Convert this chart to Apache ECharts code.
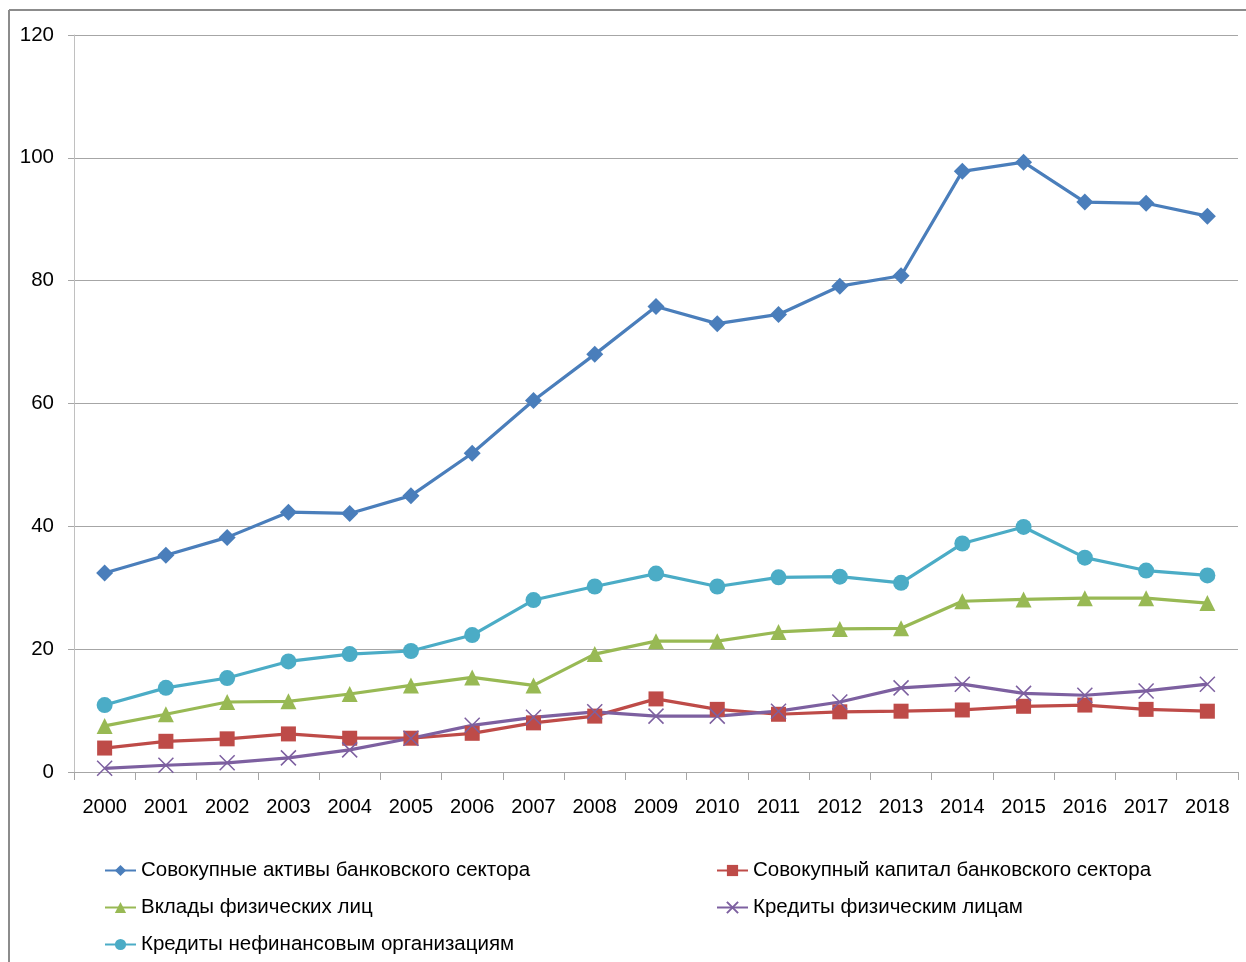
<!DOCTYPE html>
<html>
<head>
<meta charset="utf-8">
<script src="https://cdn.jsdelivr.net/npm/echarts@6/dist/echarts.min.js"></script>
<style>
html,body{margin:0;padding:0;background:#fff;}
#chart{width:1246px;height:962px;}
</style>
</head>
<body>
<div id="chart"></div>
<script>
const years = ['2000','2001','2002','2003','2004','2005','2006','2007','2008','2009','2010','2011','2012','2013','2014','2015','2016','2017','2018'];
const seriesNames = [
  'Совокупные активы банковского сектора',
  'Совокупный капитал банковского сектора',
  'Вклады физических лиц',
  'Кредиты физическим лицам',
  'Кредиты нефинансовым организациям'
];
const assets      = [32.4, 35.3, 38.2, 42.3, 42.1, 45.0, 51.9, 60.5, 68.0, 75.8, 73.0, 74.5, 79.1, 80.8, 97.8, 99.3, 92.8, 92.6, 90.5];
const capital     = [3.9, 5.0, 5.4, 6.2, 5.5, 5.5, 6.3, 8.0, 9.1, 11.9, 10.2, 9.4, 9.8, 9.9, 10.1, 10.7, 10.9, 10.2, 9.9];
const deposits    = [7.5, 9.4, 11.4, 11.5, 12.7, 14.1, 15.4, 14.1, 19.2, 21.3, 21.3, 22.8, 23.3, 23.4, 27.8, 28.1, 28.3, 28.3, 27.5];
const indivLoans  = [0.6, 1.1, 1.5, 2.3, 3.6, 5.5, 7.6, 8.9, 9.8, 9.1, 9.1, 9.9, 11.4, 13.7, 14.3, 12.8, 12.5, 13.2, 14.3];
const corpLoans   = [10.9, 13.7, 15.3, 18.0, 19.2, 19.7, 22.3, 28.0, 30.2, 32.3, 30.2, 31.7, 31.8, 30.8, 37.2, 39.9, 34.9, 32.8, 32.0];
const yTicks = [0, 20, 40, 60, 80, 100, 120];

const FONT = 'Liberation Sans';
const chart = echarts.init(document.getElementById('chart'), null, {renderer: 'canvas'});
const crossPath = 'path://M0,0L10,10M10,0L0,10';

function mk(name, data, color, symbol, size) {
  return {
    name: name, type: 'line', data: data,
    symbol: symbol, symbolSize: size,
    showSymbol: true,
    lineStyle: {color: color, width: 3.2},
    itemStyle: {color: color, borderColor: color, borderWidth: 0},
    emphasis: {disabled: true},
    z: 3
  };
}

const legendText = {fontFamily: FONT, fontSize: 20.5, color: '#000'};
const option = {
  backgroundColor: '#fff',
  animation: false,
  grid: {left: 74, right: 8, top: 35, bottom: 190, containLabel: false},
  xAxis: {
    type: 'category', data: years, boundaryGap: true,
    axisLine: {show: true, lineStyle: {color: '#a6a6a6', width: 1}},
    axisTick: {show: true, length: 8, lineStyle: {color: '#a6a6a6'}},
    axisLabel: {fontFamily: FONT, fontSize: 20, color: '#000', margin: 25, interval: 0},
    splitLine: {show: false}
  },
  yAxis: {
    type: 'value', min: 0, max: 120, interval: 20,
    axisLine: {show: true, lineStyle: {color: '#c0c0c0', width: 1}},
    axisTick: {show: true, length: 6, lineStyle: {color: '#a6a6a6'}},
    axisLabel: {fontFamily: FONT, fontSize: 20.5, color: '#000', margin: 20,
      formatter: function (v) { return yTicks.indexOf(v) >= 0 ? String(v) : ''; }},
    splitLine: {show: true, lineStyle: {color: '#a6a6a6', width: 1}}
  },
  legend: [
    {
      data: [seriesNames[0], seriesNames[2], seriesNames[4]],
      orient: 'vertical', left: 104, top: 860, itemGap: 16,
      itemWidth: 31, itemHeight: 14, textStyle: legendText, padding: 0,
      selectedMode: false
    },
    {
      data: [seriesNames[1], seriesNames[3]],
      orient: 'vertical', left: 716, top: 860, itemGap: 16,
      itemWidth: 31, itemHeight: 14, textStyle: legendText, padding: 0,
      selectedMode: false
    }
  ],
  series: [
    mk(seriesNames[0], assets, '#4a7ebb', 'diamond', 17),
    mk(seriesNames[1], capital, '#be4b48', 'rect', 15),
    mk(seriesNames[2], deposits, '#98b954', 'triangle', 16),
    {
      name: seriesNames[3], type: 'line', data: indivLoans,
      symbol: crossPath, symbolSize: 15, showSymbol: true,
      lineStyle: {color: '#7d60a0', width: 3.2},
      itemStyle: {color: 'none', borderColor: '#7d60a0', borderWidth: 1.5},
      emphasis: {disabled: true}, z: 3
    },
    mk(seriesNames[4], corpLoans, '#4bacc6', 'circle', 16)
  ],
  graphic: [
    {type: 'line', shape: {x1: 9, y1: 10, x2: 1246, y2: 10}, style: {stroke: '#8c8c8c', lineWidth: 2}, silent: true},
    {type: 'line', shape: {x1: 9, y1: 10, x2: 9, y2: 962}, style: {stroke: '#8c8c8c', lineWidth: 2}, silent: true}
  ]
};
chart.setOption(option);
</script>
</body>
</html>
